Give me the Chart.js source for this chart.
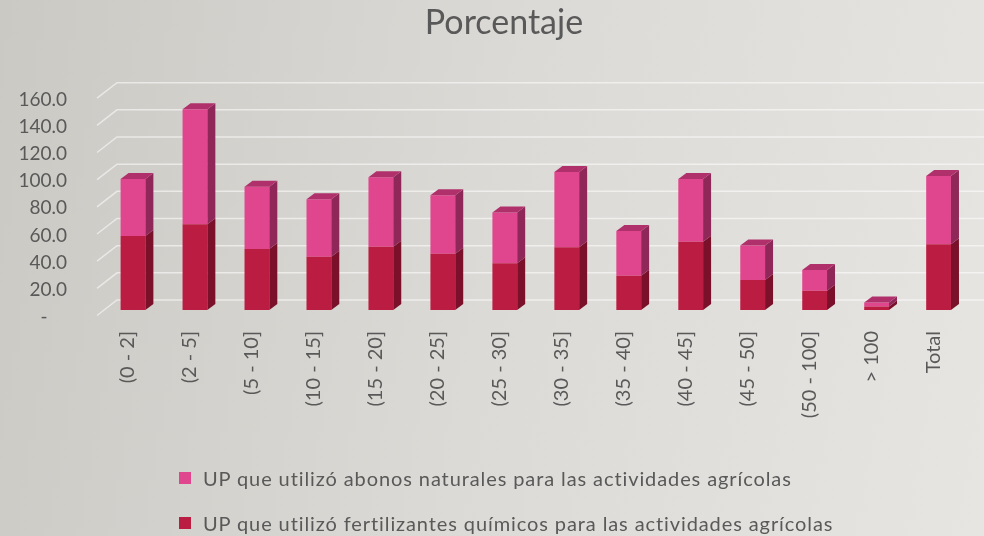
<!DOCTYPE html>
<html>
<head>
<meta charset="utf-8">
<script src="https://cdn.jsdelivr.net/npm/chart.js@4.4.1/dist/chart.umd.min.js"></script>
<style>
  html, body { margin: 0; padding: 0; }
  body {
    width: 984px; height: 536px; overflow: hidden; position: relative;
    background: linear-gradient(100deg, #cbc9c4 0%, #dcdad6 50%, #e7e5e2 100%);
    font-family: Lato, "Open Sans", sans-serif;
  }
  #wrap { position: absolute; left: 0; top: 0; width: 984px; height: 536px; }
  #titulo { position: absolute; left: 0; top: 0; width: 1008px; text-align: center;
    font-size: 34px; line-height: 42px; color: #595959; }
  .leyenda { position: absolute; left: 179px; height: 24px; line-height: 24px;
    font-size: 20px; letter-spacing: 0.9px; color: #595959; white-space: nowrap; }
  .leyenda span { position: absolute; left: 0; top: 6px; width: 12px; height: 12px; }
  .leyenda b { font-weight: normal; position: absolute; left: 24px; top: 0; }
</style>
</head>
<body>
<div id="wrap"><canvas id="grafico" width="984" height="536"></canvas></div>
<div id="titulo">Porcentaje</div>
<div class="leyenda" style="top:466px"><span style="background:#e0468e"></span><b id="ley1"></b></div>
<div class="leyenda" style="top:511px"><span style="background:#bb1c42"></span><b id="ley2"></b></div>
<script>
// Datos
const categorias = ['(0 - 2]', '(2 - 5]', '(5 - 10]', '(10 - 15]', '(15 - 20]', '(20 - 25]',
  '(25 - 30]', '(30 - 35]', '(35 - 40]', '(40 - 45]', '(45 - 50]', '(50 - 100]', '> 100', 'Total'];
const fertilizantes = [54.5, 63.1, 44.9, 39.3, 46.6, 41.5, 34.4, 46.2, 25.3, 50.3, 22.1, 14.2, 2.5, 48.4];
const abonos = [42.0, 84.7, 45.9, 42.2, 51.1, 43.0, 37.3, 55.4, 32.9, 46.2, 25.3, 15.3, 3.1, 50.3];
const yTicks = [0, 20, 40, 60, 80, 100, 120, 140, 160];

const nombreAbonos = 'UP que utilizó abonos naturales para las actividades agrícolas';
const nombreFert = 'UP que utilizó fertilizantes químicos para las actividades agrícolas';

document.getElementById('ley1').textContent = nombreAbonos;
document.getElementById('ley2').textContent = nombreFert;

const DX = 8, DY = 6;

// Rejilla tipo 3D (pared del fondo y lateral)
const rejilla3D = {
  id: 'rejilla3D',
  beforeDatasetsDraw(chart) {
    const ctx = chart.ctx;
    const y = chart.scales.y;
    const left = chart.chartArea.left;
    ctx.save();
    ctx.strokeStyle = 'rgba(255,255,255,0.55)';
    ctx.lineWidth = 1.5;
    yTicks.forEach(v => {
      const py = y.getPixelForValue(v);
      ctx.beginPath();
      ctx.moveTo(left - 5, py + 5.5);
      ctx.lineTo(left + 15, py - 10);
      ctx.lineTo(chart.width, py - 10);
      ctx.stroke();
    });
    ctx.restore();
  }
};

// Caras laterales y superior de las barras
const caras3D = {
  id: 'caras3D',
  afterDatasetsDraw(chart) {
    const ctx = chart.ctx;
    const lados = ['#7a1029', '#8f2858'];
    const ultimo = chart.data.datasets.length - 1;
    ctx.save();
    chart.data.datasets.forEach((ds, i) => {
      chart.getDatasetMeta(i).data.forEach(bar => {
        const w = bar.width / 2;
        const xr = bar.x + w;
        ctx.fillStyle = lados[i];
        ctx.beginPath();
        ctx.moveTo(xr, bar.y);
        ctx.lineTo(xr + DX, bar.y - DY);
        ctx.lineTo(xr + DX, bar.base - DY);
        ctx.lineTo(xr, bar.base);
        ctx.closePath();
        ctx.fill();
        if (i === ultimo) {
          ctx.fillStyle = '#b0306b';
          ctx.beginPath();
          ctx.moveTo(bar.x - w, bar.y);
          ctx.lineTo(bar.x - w + DX, bar.y - DY);
          ctx.lineTo(xr + DX, bar.y - DY);
          ctx.lineTo(xr, bar.y);
          ctx.closePath();
          ctx.fill();
        }
      });
    });
    ctx.restore();
  }
};

const ctx = document.getElementById('grafico').getContext('2d');
const myChart = new Chart(ctx, {
  type: 'bar',
  data: {
    labels: categorias,
    datasets: [
      { label: nombreFert, data: fertilizantes, backgroundColor: '#bb1c42' },
      { label: nombreAbonos, data: abonos, backgroundColor: '#e0468e' }
    ]
  },
  options: {
    responsive: false,
    animation: false,
    barPercentage: 0.4,
    categoryPercentage: 1,
    layout: { padding: { left: 0, right: 12, top: 92.7, bottom: 0 } },
    plugins: {
      legend: { display: false },
      tooltip: { enabled: false },
      title: { display: false }
    },
    scales: {
      x: {
        stacked: true,
        grid: { display: false, drawTicks: false },
        border: { display: false },
        ticks: {
          color: '#595959',
          font: { family: 'Lato', size: 20 },
          minRotation: 90,
          maxRotation: 90,
          autoSkip: false,
          padding: 21,
          labelOffset: -5
        },
        afterFit(scale) { scale.height = 226; }
      },
      y: {
        stacked: true,
        min: 0,
        max: 160,
        grid: { display: false, drawTicks: false },
        border: { display: false },
        afterBuildTicks(scale) { scale.ticks = yTicks.map(v => ({ value: v })); },
        ticks: {
          color: '#595959',
          font: { family: 'Lato', size: 19 },
          padding: 35,
          labelOffset: 7,
          callback: v => v === 0 ? '-    ' : v.toFixed(1)
        },
        afterFit(scale) { scale.width = 102; }
      }
    }
  },
  plugins: [rejilla3D, caras3D]
});
</script>
</body>
</html>
